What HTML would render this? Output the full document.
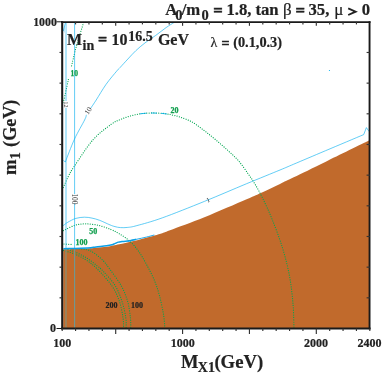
<!DOCTYPE html>
<html><head><meta charset="utf-8">
<style>
html,body{margin:0;padding:0;background:#fff;}
body{width:382px;height:379px;overflow:hidden;position:relative;font-family:"Liberation Serif",serif;}
svg{position:absolute;left:0;top:0;will-change:transform;}
text{font-family:"Liberation Serif",serif;font-weight:bold;}
.k{fill:#222;stroke:#222;stroke-width:0.2;}
.e{stroke-width:0.5;}
.t{stroke-width:0.22;}
.g{fill:#14a050;stroke:#14a050;stroke-width:0.25;}
.n{font-weight:normal;}
</style></head><body>
<svg width="382" height="379" viewBox="0 0 382 379">
<!-- brown region -->
<path fill="#c16a2c" d="M63.20,249.30 C65.17,249.25 70.92,249.13 75.00,249.00 C79.08,248.87 84.20,248.70 87.70,248.50 C91.20,248.30 92.83,248.08 96.00,247.80 C99.17,247.52 103.87,247.18 106.70,246.80 C109.53,246.42 110.90,245.92 113.00,245.50 C115.10,245.08 116.90,244.80 119.30,244.30 C121.70,243.80 124.62,243.12 127.40,242.50 C130.18,241.88 132.83,241.38 136.00,240.60 C139.17,239.82 142.03,239.03 146.40,237.80 C150.77,236.57 158.27,234.45 162.20,233.20 C166.13,231.95 162.97,232.95 170.00,230.30 C177.03,227.65 191.63,222.47 204.40,217.30 C217.17,212.13 237.00,203.43 246.60,199.30 C256.20,195.17 256.43,195.07 262.00,192.50 C267.57,189.93 274.72,186.43 280.00,183.90 C285.28,181.37 286.15,180.97 293.70,177.30 C301.25,173.63 312.67,168.07 325.30,161.90 C337.93,155.73 362.13,143.90 369.50,140.30 L369.5,328 L63.2,328 Z"/>
<!-- green dotted -->
<g fill="none" stroke="#00a651" stroke-width="1.22" stroke-linecap="round" stroke-dasharray="0.01,2.35">
<path d="M83.60,22.50 C82.33,26.70 78.07,40.20 76.00,47.70 C73.93,55.20 72.00,64.20 71.20,67.50 M68.40,79.50 C68.10,80.88 67.47,83.88 66.60,87.80 C65.73,91.72 63.77,100.47 63.20,103.00"/>
<path d="M63.30,187.50 C64.18,185.55 66.77,179.33 68.60,175.80 C70.43,172.27 70.27,172.27 74.30,166.30 C78.33,160.33 86.65,147.00 92.80,140.00 C98.95,133.00 106.67,127.68 111.20,124.30 C115.73,120.92 116.92,121.05 120.00,119.70 C123.08,118.35 126.37,117.18 129.70,116.20 C133.03,115.22 136.62,114.33 140.00,113.80 C143.38,113.27 146.67,113.10 150.00,113.00 C153.33,112.90 157.33,113.07 160.00,113.20 C162.67,113.33 164.17,113.55 166.00,113.80 C167.83,114.05 168.67,114.15 171.00,114.70 C173.33,115.25 176.52,115.90 180.00,117.10 C183.48,118.30 187.95,119.72 191.90,121.90 C195.85,124.08 199.75,127.23 203.70,130.20 C207.65,133.17 211.58,136.33 215.60,139.70 C219.62,143.07 223.93,146.83 227.80,150.40 C231.67,153.97 235.38,157.15 238.80,161.10 C242.22,165.05 245.65,170.35 248.30,174.10 C250.95,177.85 252.28,179.53 254.70,183.60 C257.12,187.67 259.88,192.52 262.80,198.50 C265.72,204.48 268.95,211.38 272.20,219.50 C275.45,227.62 279.45,237.97 282.30,247.20 C285.15,256.43 287.53,265.68 289.30,274.90 C291.07,284.12 292.12,293.65 292.90,302.50 C293.68,311.35 293.82,323.75 294.00,328.00"/>
<path d="M63.40,230.60 C65.33,229.72 71.32,226.43 75.00,225.30 C78.68,224.17 81.63,223.80 85.50,223.80 C89.37,223.80 93.97,224.35 98.20,225.30 C102.43,226.25 107.38,228.08 110.90,229.50 C114.42,230.92 116.25,231.95 119.30,233.80 C122.35,235.65 126.00,237.72 129.20,240.60 C132.40,243.48 135.63,247.15 138.50,251.10 C141.37,255.05 143.77,259.47 146.40,264.30 C149.03,269.13 152.10,274.82 154.30,280.10 C156.50,285.38 158.07,290.28 159.60,296.00 C161.13,301.72 162.62,309.07 163.50,314.40 C164.38,319.73 164.67,325.73 164.90,328.00"/>
<path d="M64.00,244.00 L73.20,244.60"/>
<path d="M74.50,248.50 C76.48,248.68 83.10,248.82 86.40,249.60 C89.70,250.38 91.45,251.30 94.30,253.20 C97.15,255.10 100.88,258.28 103.50,261.00 C106.12,263.72 107.03,265.37 110.00,269.50 C112.97,273.63 118.35,280.43 121.30,285.80 C124.25,291.17 126.18,296.42 127.70,301.70 C129.22,306.98 129.88,313.12 130.40,317.50 C130.92,321.88 130.73,326.25 130.80,328.00"/>
<path d="M66.00,248.80 C67.42,249.30 71.10,250.30 74.50,251.80 C77.90,253.30 82.65,255.48 86.40,257.80 C90.15,260.12 94.15,263.42 97.00,265.70 C99.85,267.98 100.45,268.15 103.50,271.50 C106.55,274.85 112.20,280.77 115.30,285.80 C118.40,290.83 120.35,296.42 122.10,301.70 C123.85,306.98 125.13,313.12 125.80,317.50 C126.47,321.88 126.05,326.25 126.10,328.00"/>
<path d="M63.50,250.50 C65.33,251.08 70.68,252.38 74.50,254.00 C78.32,255.62 82.57,257.67 86.40,260.20 C90.23,262.73 93.23,264.90 97.50,269.20 C101.77,273.50 108.33,280.58 112.00,286.00 C115.67,291.42 117.67,296.45 119.50,301.70 C121.33,306.95 122.32,313.12 123.00,317.50 C123.68,321.88 123.50,326.25 123.60,328.00"/>
</g>
<!-- blue lines -->
<g fill="none" stroke="#00aeef" stroke-width="0.62">
<line x1="74.6" y1="22" x2="74.6" y2="194.2"/>
<line x1="74.6" y1="203.4" x2="74.6" y2="248"/>
<line x1="74.6" y1="248" x2="74.6" y2="328" stroke="#6e9a96" stroke-width="1.1"/>
<line x1="66" y1="22" x2="66" y2="248.5" stroke="#00aeef" stroke-width="0.62"/>
<line x1="66" y1="248.5" x2="66" y2="328" stroke="#8a8e72" stroke-width="1.3"/>
<path d="M65.6,22.8 L66,22.8 L66,35 L63.4,31 Z" fill="#c4eafb" stroke="none"/>
<path d="M65.5,22.5 L63.3,31"/>
<path d="M140,113.8 L146.5,113.2 M151,113 L157,113.1 M161,113.3 L167,114" stroke-width="0.8"/>
<circle cx="329.45" cy="70.5" r="0.6" fill="#00aeef" stroke="none"/>
<path d="M174.00,22.50 C172.68,23.35 169.17,25.43 166.10,27.60 C163.03,29.77 159.12,32.95 155.60,35.50 C152.08,38.05 148.30,40.37 145.00,42.90 C141.70,45.43 138.65,48.02 135.80,50.70 C132.95,53.38 130.53,56.18 127.90,59.00 C125.27,61.82 121.87,65.58 120.00,67.60 C118.13,69.62 119.02,68.32 116.70,71.10 C114.38,73.88 109.52,79.48 106.10,84.30 C102.68,89.12 98.78,95.98 96.20,100.00 C93.62,104.02 91.53,107.00 90.60,108.40"/>
<path d="M86.40,114.80 C86.10,115.67 86.58,115.95 84.60,120.00 C82.62,124.05 77.72,132.10 74.50,139.10 C71.28,146.10 66.83,158.18 65.30,162.00 L63.4,160.4"/>
<path d="M62.30,226.30 C62.67,226.02 63.57,225.28 64.50,224.60 C65.43,223.92 66.02,223.23 67.90,222.20 C69.78,221.17 73.05,219.23 75.80,218.40 C78.55,217.57 81.70,217.25 84.40,217.20 C87.10,217.15 89.47,217.58 92.00,218.10 C94.53,218.62 96.60,219.17 99.60,220.30 C102.60,221.43 107.43,223.85 110.00,224.90 C112.57,225.95 113.27,226.15 115.00,226.60 C116.73,227.05 118.27,227.47 120.40,227.60 C122.53,227.73 125.05,227.73 127.80,227.40 C130.55,227.07 131.17,227.18 136.90,225.60 C142.63,224.02 150.95,221.93 162.20,217.90 C173.45,213.87 190.33,207.10 204.40,201.40 C218.47,195.70 234.00,188.93 246.60,183.70 C259.20,178.47 272.15,173.25 280.00,170.00 C287.85,166.75 286.15,167.40 293.70,164.20 C301.25,161.00 313.63,155.73 325.30,150.80 C336.97,145.87 357.30,137.30 363.70,134.60 L366.4,127.6 L369,131.4"/>
<path stroke-width="1.5" stroke="#0a9fe6" d="M63.40,248.70 C67.45,248.58 82.27,248.30 87.70,248.00 C93.13,247.70 92.87,247.28 96.00,246.90 C99.13,246.52 103.83,246.07 106.50,245.70 C109.17,245.33 110.62,245.05 112.00,244.70 C113.38,244.35 113.72,244.03 114.80,243.60 C115.88,243.17 117.30,242.43 118.50,242.10 C119.70,241.77 120.52,241.77 122.00,241.60 C123.48,241.43 125.07,241.48 127.40,241.10 C129.73,240.72 134.57,239.60 136.00,239.30"/>
<path stroke-width="0.9" stroke="#0a9fe6" d="M127.40,241.20 C128.83,240.90 132.83,240.08 136.00,239.40 C139.17,238.72 143.35,237.83 146.40,237.10 C149.45,236.37 152.98,235.35 154.30,235.00"/>
</g>
<!-- contour labels -->
<g font-size="7.3" fill="#333" style="font-weight:normal" text-anchor="middle">
<text class="n" transform="translate(90.2,112) rotate(-59)">10</text>
<text class="n" transform="translate(72.3,198.9) rotate(90)">100</text>
<rect x="63.6" y="101" width="4.9" height="6.8" fill="#fff"/>
<text class="n" transform="translate(64.2,104.4) rotate(90)" font-size="6">12</text>
<text class="n" transform="translate(209,202.2) rotate(-23)" font-size="6.8" fill="#222">1</text>
</g>
<!-- axes -->
<g stroke="#1a1a1a" fill="none">
<line x1="62.2" y1="21.2" x2="62.2" y2="329.3" stroke-width="2.05"/>
<line x1="61.1" y1="22.1" x2="370.5" y2="22.1" stroke-width="1.85"/>
<line x1="369.55" y1="21.2" x2="369.55" y2="329.3" stroke-width="1.9"/>
<line x1="61.1" y1="328.55" x2="370.5" y2="328.55" stroke-width="1.9"/>
<line x1="56.5" y1="21.8" x2="62" y2="21.8" stroke-width="1"/>
<line x1="56.5" y1="328.5" x2="62" y2="328.5" stroke-width="1"/>
</g>
<g stroke="#333" stroke-width="1.15">
<line x1="62.20" y1="328.5" x2="62.20" y2="331"/>
<line x1="75.57" y1="328.5" x2="75.57" y2="331"/>
<line x1="75.57" y1="21.8" x2="75.57" y2="24.4"/>
<line x1="88.95" y1="328.5" x2="88.95" y2="331"/>
<line x1="88.95" y1="21.8" x2="88.95" y2="24.4"/>
<line x1="102.32" y1="328.5" x2="102.32" y2="331"/>
<line x1="102.32" y1="21.8" x2="102.32" y2="24.4"/>
<line x1="115.70" y1="328.5" x2="115.70" y2="334"/>
<line x1="115.70" y1="21.8" x2="115.70" y2="25.8"/>
<line x1="129.07" y1="328.5" x2="129.07" y2="331"/>
<line x1="129.07" y1="21.8" x2="129.07" y2="24.4"/>
<line x1="142.44" y1="328.5" x2="142.44" y2="331"/>
<line x1="142.44" y1="21.8" x2="142.44" y2="24.4"/>
<line x1="155.82" y1="328.5" x2="155.82" y2="331"/>
<line x1="155.82" y1="21.8" x2="155.82" y2="24.4"/>
<line x1="169.19" y1="328.5" x2="169.19" y2="331"/>
<line x1="169.19" y1="21.8" x2="169.19" y2="24.4"/>
<line x1="182.57" y1="328.5" x2="182.57" y2="334"/>
<line x1="182.57" y1="21.8" x2="182.57" y2="25.8"/>
<line x1="195.94" y1="328.5" x2="195.94" y2="331"/>
<line x1="195.94" y1="21.8" x2="195.94" y2="24.4"/>
<line x1="209.31" y1="328.5" x2="209.31" y2="331"/>
<line x1="209.31" y1="21.8" x2="209.31" y2="24.4"/>
<line x1="222.69" y1="328.5" x2="222.69" y2="331"/>
<line x1="222.69" y1="21.8" x2="222.69" y2="24.4"/>
<line x1="236.06" y1="328.5" x2="236.06" y2="331"/>
<line x1="236.06" y1="21.8" x2="236.06" y2="24.4"/>
<line x1="249.44" y1="328.5" x2="249.44" y2="334"/>
<line x1="249.44" y1="21.8" x2="249.44" y2="25.8"/>
<line x1="262.81" y1="328.5" x2="262.81" y2="331"/>
<line x1="262.81" y1="21.8" x2="262.81" y2="24.4"/>
<line x1="276.18" y1="328.5" x2="276.18" y2="331"/>
<line x1="276.18" y1="21.8" x2="276.18" y2="24.4"/>
<line x1="289.56" y1="328.5" x2="289.56" y2="331"/>
<line x1="289.56" y1="21.8" x2="289.56" y2="24.4"/>
<line x1="302.93" y1="328.5" x2="302.93" y2="331"/>
<line x1="302.93" y1="21.8" x2="302.93" y2="24.4"/>
<line x1="316.31" y1="328.5" x2="316.31" y2="334"/>
<line x1="316.31" y1="21.8" x2="316.31" y2="25.8"/>
<line x1="329.68" y1="328.5" x2="329.68" y2="331"/>
<line x1="329.68" y1="21.8" x2="329.68" y2="24.4"/>
<line x1="343.05" y1="328.5" x2="343.05" y2="331"/>
<line x1="343.05" y1="21.8" x2="343.05" y2="24.4"/>
<line x1="356.43" y1="328.5" x2="356.43" y2="331"/>
<line x1="356.43" y1="21.8" x2="356.43" y2="24.4"/>
<line x1="369.80" y1="328.5" x2="369.80" y2="331"/>
<line x1="59.5" y1="297.83" x2="62" y2="297.83"/>
<line x1="369.8" y1="297.83" x2="366.6" y2="297.83"/>
<line x1="59.5" y1="267.16" x2="62" y2="267.16"/>
<line x1="369.8" y1="267.16" x2="366.6" y2="267.16"/>
<line x1="59.5" y1="236.49" x2="62" y2="236.49"/>
<line x1="369.8" y1="236.49" x2="366.6" y2="236.49"/>
<line x1="59.5" y1="205.82" x2="62" y2="205.82"/>
<line x1="369.8" y1="205.82" x2="366.6" y2="205.82"/>
<line x1="59.5" y1="175.15" x2="62" y2="175.15"/>
<line x1="369.8" y1="175.15" x2="366.6" y2="175.15"/>
<line x1="59.5" y1="144.48" x2="62" y2="144.48"/>
<line x1="369.8" y1="144.48" x2="366.6" y2="144.48"/>
<line x1="59.5" y1="113.81" x2="62" y2="113.81"/>
<line x1="369.8" y1="113.81" x2="366.6" y2="113.81"/>
<line x1="59.5" y1="83.14" x2="62" y2="83.14"/>
<line x1="369.8" y1="83.14" x2="366.6" y2="83.14"/>
<line x1="59.5" y1="52.47" x2="62" y2="52.47"/>
<line x1="369.8" y1="52.47" x2="366.6" y2="52.47"/>
</g>
<!-- labels -->
<g class="k">
<text x="33.2" y="25.9" font-size="11.8" class="t">1000</text>
<text x="50" y="332.4" font-size="12" class="t">0</text>
<text x="62.3" y="346.6" font-size="12" text-anchor="middle" class="t">100</text>
<text x="182.7" y="346.6" font-size="12" text-anchor="middle" class="t">1000</text>
<text x="316" y="346.6" font-size="12" text-anchor="middle" class="t">2000</text>
<text x="369.6" y="346.6" font-size="12" text-anchor="middle" class="t">2400</text>
<text x="181" y="367.5" font-size="18.5">M</text><text x="197.8" y="372.2" font-size="14">X1</text><text x="214.4" y="367.5" font-size="18.7">(GeV)</text>
<g transform="translate(15.8,174.9) rotate(-90)"><text x="0" y="0" font-size="18.6">m</text><text x="15.6" y="4.6" font-size="14">1</text><text x="28" y="0" font-size="18.1">(GeV)</text></g>
<g font-size="16.7">
<text x="165.3" y="15.4">A</text><text x="175.3" y="20.4" font-size="14.5">0</text><text x="181.8" y="15.4">/</text><text x="186.3" y="15.4">m</text><text x="201.5" y="20.4" font-size="14.5">0</text>
<text x="213.3" y="15.8" class="e">=</text><text x="226.4" y="15.4">1.8,</text><text x="255.4" y="15.4">tan</text><text x="283" y="15.4" class="n" font-size="17">β</text>
<text x="295.5" y="15.8" class="e">=</text><text x="308.5" y="15.4">35,</text><text x="334.2" y="15.4" class="n" font-size="17">μ</text><path d="M348.2,8.4 L355.6,11.7 L348.2,15" fill="none" stroke="#222" stroke-width="1.9" stroke-linejoin="miter"/><text x="361.7" y="15.4">0</text>
</g>
<g font-size="16">
<text x="67" y="44.9">M</text><text x="82.6" y="49.8" font-size="14">in</text><text x="98.1" y="45.4" class="e">=</text><text x="111.6" y="44.9">10</text><text x="128.2" y="40.5" font-size="14">16.5</text><text x="157.9" y="44.9">GeV</text>
</g>
<g font-size="14"><text x="210.6" y="47.2" class="n">λ</text><text x="221.4" y="47.5" class="e">=</text><text x="233.2" y="47.2" font-size="14.3">(0.1,0.3)</text></g>
<text x="105.6" y="307.7" font-size="8">200</text>
<text x="130.9" y="307.7" font-size="8">100</text>
</g>
<g class="g">
<text x="70.6" y="75.9" font-size="7.5">10</text>
<text x="170.5" y="113" font-size="8">20</text>
<text x="89.3" y="234" font-size="8">50</text>
<text x="75.6" y="244.6" font-size="8">100</text>
</g>
</svg>
</body></html>
